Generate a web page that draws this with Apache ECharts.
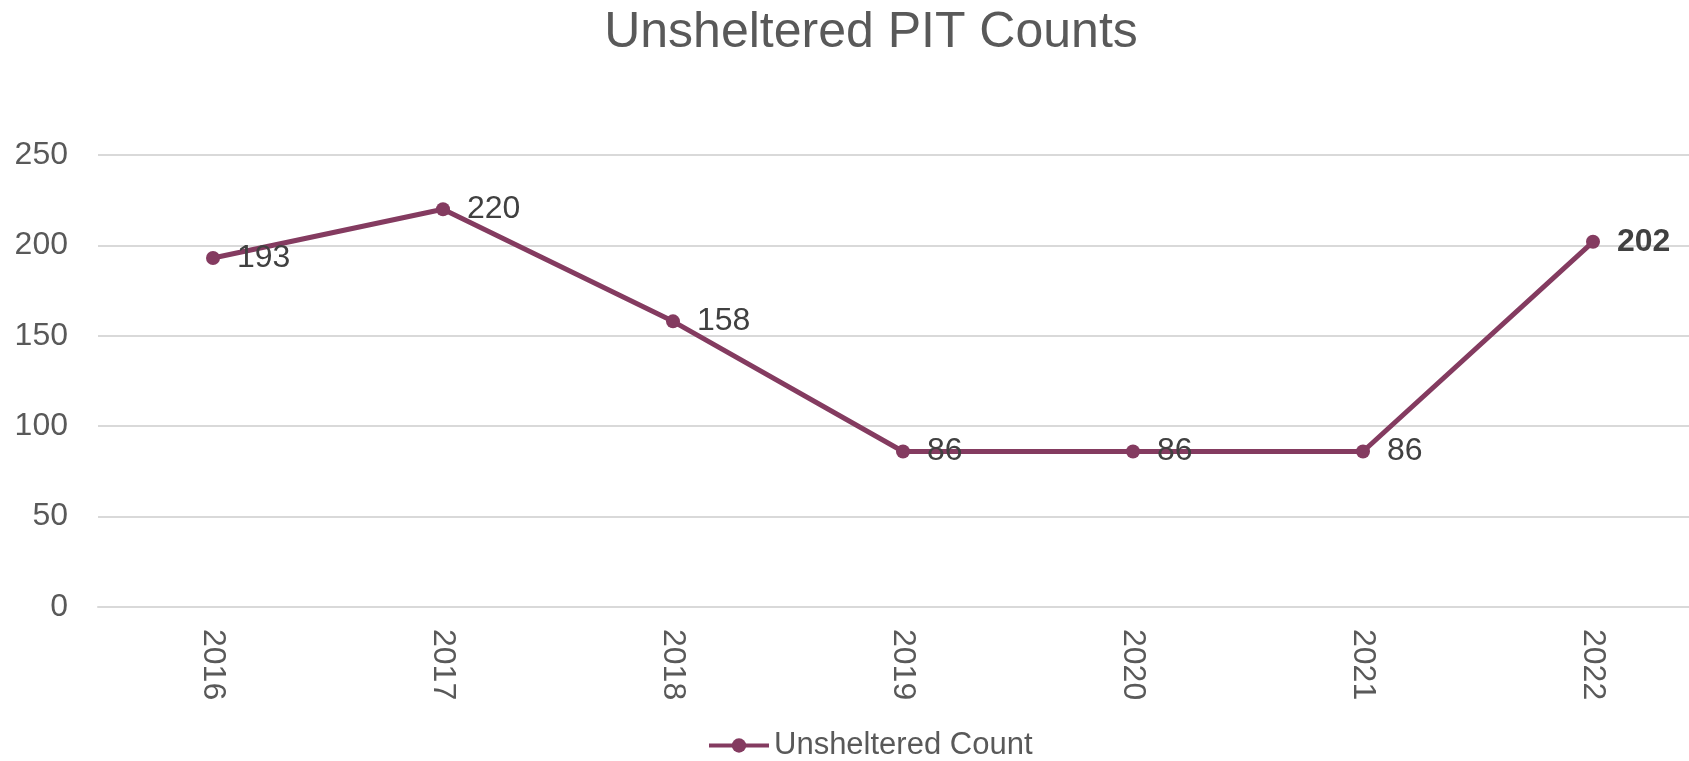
<!DOCTYPE html>
<html>
<head>
<meta charset="utf-8">
<title>Unsheltered PIT Counts</title>
<script src="https://cdn.jsdelivr.net/npm/echarts@6/dist/echarts.min.js"></script>
<style>
  html, body { margin: 0; padding: 0; background: #fff; overflow: hidden; }
  /* plot area runs past the right edge in the original, so the canvas is a bit wider than the window */
  #chart { width: 1720px; height: 761px; }
</style>
</head>
<body>
<div id="chart"></div>
<script>
const years = ['2016', '2017', '2018', '2019', '2020', '2021', '2022']
const unshelteredCount = [193, 220, 158, 86, 86, 86, 202]
const yTicks = { min: 0, max: 250, interval: 50 }

const lineColor = '#843b60'
const font = '"Liberation Sans", Arial, sans-serif'

const chart = echarts.init(document.getElementById('chart'))

const option = {
  animation: false,
  backgroundColor: '#fff',
  textStyle: { fontFamily: font },
  title: {
    text: 'Unsheltered PIT Counts',
    left: 866,
    textAlign: 'center',
    top: 3,
    textStyle: {
      fontFamily: font,
      fontSize: 50,
      fontWeight: 'normal',
      color: '#595959'
    }
  },
  legend: {
    data: ['Unsheltered Count'],
    left: 702,
    top: 725,
    itemWidth: 60,
    itemHeight: 18,
    itemGap: 5,
    lineStyle: { width: 4 },
    textStyle: { fontFamily: font, fontSize: 31, color: '#595959' }
  },
  grid: {
    left: 98,
    top: 155,
    width: 1610,
    height: 452
  },
  xAxis: {
    type: 'category',
    data: years,
    boundaryGap: true,
    axisLine: { lineStyle: { color: '#d9d9d9', width: 2 } },
    axisTick: { show: false },
    axisLabel: {
      rotate: -90,
      margin: 22,
      fontFamily: font,
      fontSize: 32,
      color: '#595959'
    }
  },
  yAxis: {
    type: 'value',
    min: yTicks.min,
    max: yTicks.max,
    interval: yTicks.interval,
    axisLine: { show: false },
    axisTick: { show: false },
    splitLine: { lineStyle: { color: '#d9d9d9', width: 2 } },
    axisLabel: {
      margin: 30,
      fontFamily: font,
      fontSize: 32,
      color: '#595959'
    }
  },
  series: [{
    name: 'Unsheltered Count',
    type: 'line',
    data: unshelteredCount.map((v, i) => i === unshelteredCount.length - 1
      ? { value: v, label: { fontWeight: 'bold' } }
      : v),
    symbol: 'circle',
    symbolSize: 14,
    lineStyle: { color: lineColor, width: 5 },
    itemStyle: { color: lineColor },
    label: {
      show: true,
      position: 'right',
      distance: 17,
      fontFamily: font,
      fontSize: 32,
      color: '#404040'
    }
  }]
}

chart.setOption(option)
window.addEventListener('resize', () => chart.resize())
</script>
</body>
</html>
